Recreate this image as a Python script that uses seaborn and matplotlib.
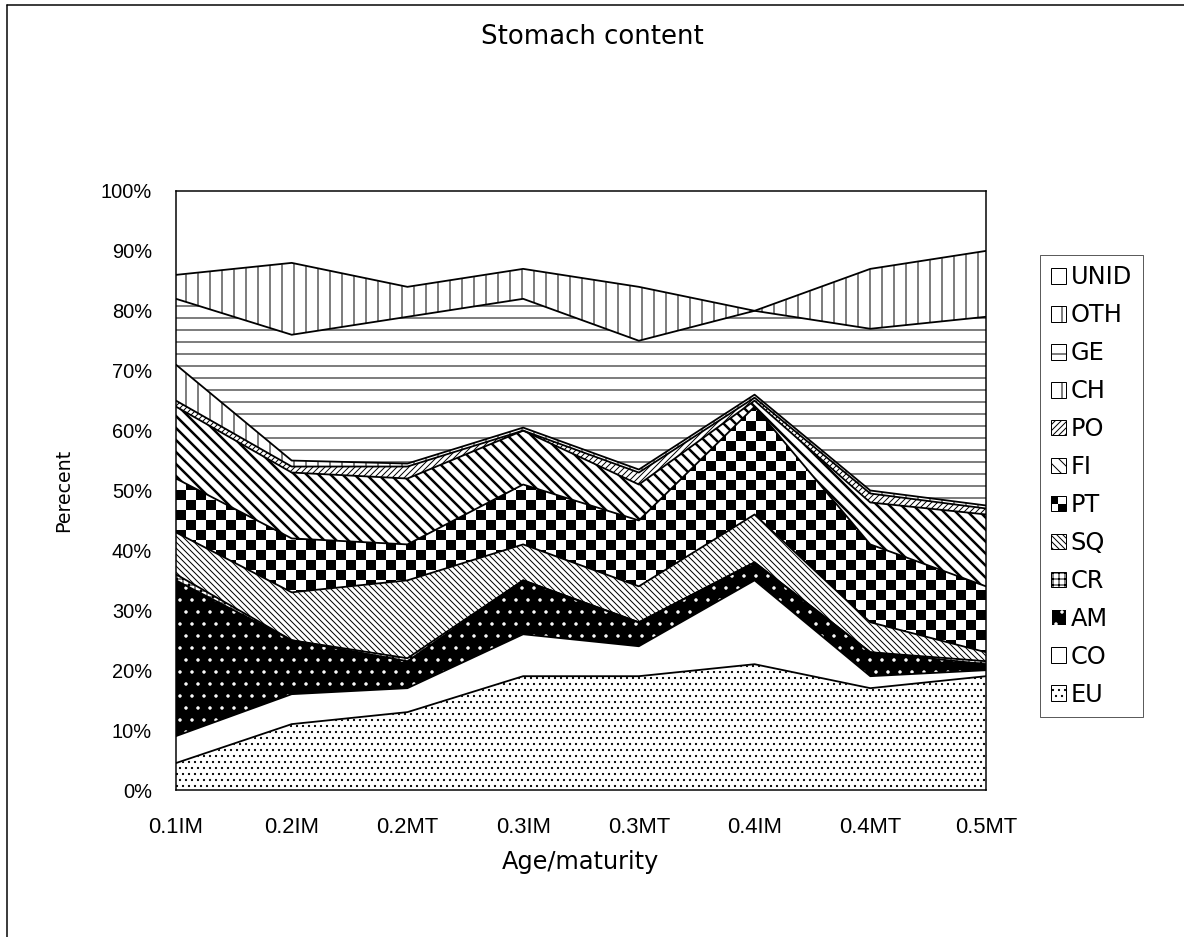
import numpy as np
import pandas as pd
import matplotlib
matplotlib.use("Agg")
import matplotlib.pyplot as plt
import seaborn as sns
from matplotlib.patches import Patch, Rectangle
from matplotlib.lines import Line2D
from matplotlib.legend_handler import HandlerBase

# Datos (porcentaje de cada presa por grupo de edad/madurez)
stages = ["0.1IM", "0.2IM", "0.2MT", "0.3IM", "0.3MT", "0.4IM", "0.4MT", "0.5MT"]
prey = ["EU", "CO", "AM", "CR", "SQ", "PT", "FI", "PO", "CH", "GE", "OTH", "UNID"]

EU = [4.5, 11, 13, 19, 19, 21, 17, 19]
CO = [4.5, 5, 4, 7, 5, 14, 2, 1]
AM = [26, 9, 4.5, 9, 4, 3, 4, 1]
CR = [1, 0, 0.5, 0, 0, 0, 0, 0.5]
SQ = [7, 8, 13, 6, 6, 8, 5, 1.5]
PT = [9, 9, 6, 10, 11, 18, 13, 11]
FI = [12, 11, 11, 9, 6, 1, 7, 12]
PO = [1, 1, 2, 0, 2, 0.5, 1.5, 1]
CH = [6, 1, 0.5, 0.5, 0.5, 0.5, 0.5, 0.5]
GE = [11, 21, 24.5, 21.5, 21.5, 14, 27, 31.5]
OTH = [4, 12, 5, 5, 9, 0, 10, 11]
UNID = [14, 12, 16, 13, 16, 20, 13, 10]

df = pd.DataFrame({"EU": EU, "CO": CO, "AM": AM, "CR": CR, "SQ": SQ, "PT": PT,
                   "FI": FI, "PO": PO, "CH": CH, "GE": GE, "OTH": OTH, "UNID": UNID},
                  index=stages)

# estilos blanco y negro (tramas)
styles = {
    "EU": dict(fc="white", hc="black", hatch=".."),
    "CO": dict(fc="white", hc="black", hatch=None),
    "AM": dict(fc="black", hc="white", hatch="."),
    "CR": dict(fc="white", hc="black", hatch="++"),
    "SQ": dict(fc="white", hc="black", hatch="\\\\\\\\"),
    "PT": dict(fc="white", hc="black", hatch=None),
    "FI": dict(fc="white", hc="black", hatch="\\\\", hlw=2.5),
    "PO": dict(fc="white", hc="black", hatch="////"),
    "CH": dict(fc="white", hc="black", hatch="|"),
    "GE": dict(fc="white", hc="black", hatch="-"),
    "OTH": dict(fc="white", hc="black", hatch="|"),
    "UNID": dict(fc="white", hc="black", hatch=None),
}

sns.set_theme(style="white")
plt.rcParams["font.family"] = ["DejaVu Sans"]
plt.rcParams["hatch.linewidth"] = 1.0
plt.rcParams["text.color"] = "black"
plt.rcParams["axes.labelcolor"] = "black"
plt.rcParams["xtick.color"] = "black"
plt.rcParams["ytick.color"] = "black"
narrow = ["Liberation Sans Narrow", "Liberation Sans", "DejaVu Sans"]

DPI = 72
fig = plt.figure(figsize=(1184 / DPI, 937 / DPI), dpi=DPI)
ax = fig.add_axes([176 / 1184, 1 - 790 / 937, (986 - 176) / 1184, (790 - 191) / 937])

x = np.arange(len(stages))
bottom = np.zeros(len(stages))
fills = {}
for name in prey:
    top = bottom + df[name].values
    st = styles[name]
    coll = ax.fill_between(x, bottom, top, facecolor=st["fc"], edgecolor=st["hc"],
                           hatch=st["hatch"], linewidth=0, zorder=1)
    if "hlw" in st:
        try:
            coll.set_hatch_linewidth(st["hlw"])
        except AttributeError:
            pass
    fills[name] = coll
    bottom = top

# tablero de ajedrez para PT
ny, nx = 60, 81
checker = np.add.outer(np.arange(ny), np.arange(nx)) % 2
im = ax.imshow(checker, cmap="gray", extent=(0, len(stages) - 1, 0, 100),
               aspect="auto", interpolation="nearest", zorder=1.5)
im.set_clip_path(fills["PT"].get_paths()[0], ax.transData)

# lineas de borde entre capas
cum = df.cumsum(axis=1)
long_df = cum.drop(columns="UNID").reset_index(names="stage").melt(
    id_vars="stage", var_name="series", value_name="top")
long_df["pos"] = long_df["stage"].map({s: i for i, s in enumerate(stages)})
sns.lineplot(data=long_df, x="pos", y="top", units="series", estimator=None,
             color="black", linewidth=1.8, ax=ax, zorder=3, legend=False)

ax.set_xlim(0, len(stages) - 1)
ax.set_ylim(0, 100)
ax.set_xticks(x)
ax.set_xticklabels(stages, fontsize=22, family=narrow)
ax.set_yticks(np.arange(0, 101, 10))
ax.set_yticklabels([f"{v}%" for v in range(0, 101, 10)], fontsize=20, family=narrow)
ax.tick_params(axis="both", direction="out", length=5, width=1, color="black")
ax.tick_params(axis="y", pad=19)
ax.tick_params(axis="x", pad=22)
ax.set_xlabel("Age/maturity", fontsize=24, labelpad=12)
ax.set_ylabel("Perecent", fontsize=19, labelpad=28)
for sp in ax.spines.values():
    sp.set_color("black")
    sp.set_linewidth(1.5)

fig.text(0.5, 1 - 37 / 937, "Stomach content", ha="center", va="center", fontsize=26)

# borde del area del grafico
fig.add_artist(Line2D([7 / 1184, 1.0], [1 - 5 / 937, 1 - 5 / 937], transform=fig.transFigure,
                      color="black", lw=1.5))
fig.add_artist(Line2D([7 / 1184, 7 / 1184], [0, 1 - 5 / 937], transform=fig.transFigure,
                      color="black", lw=1.5))


class CheckerHandler(HandlerBase):
    def create_artists(self, legend, orig_handle, xdescent, ydescent, width, height, fontsize, trans):
        w, h = width / 2, height / 2
        x0, y0 = -xdescent, -ydescent
        return [
            Rectangle((x0, y0), width, height, fc="white", ec="black", lw=1, transform=trans),
            Rectangle((x0, y0 + h), w, h, fc="black", ec="none", transform=trans),
            Rectangle((x0 + w, y0), w, h, fc="black", ec="none", transform=trans),
        ]


handles = []
handler_map = {}
for name in prey[::-1]:
    st = styles[name]
    if name == "PT":
        h = Patch(facecolor="white", edgecolor="black", label=name)
        handler_map[h] = CheckerHandler()
    else:
        h = Patch(facecolor=st["fc"], edgecolor=st["hc"] if name == "AM" else "black",
                  hatch=st["hatch"], label=name, linewidth=1)
    handles.append(h)

leg = fig.legend(handles=handles, handler_map=handler_map, loc="center left",
                 bbox_to_anchor=(1040 / 1184, 1 - 486 / 937), fontsize=24,
                 frameon=True, fancybox=False, handlelength=0.62, handleheight=0.62,
                 handletextpad=0.2, labelspacing=0.58, borderpad=0.45, borderaxespad=0)
leg.get_frame().set_edgecolor("black")
leg.get_frame().set_linewidth(0.8)

fig.savefig("out.png", dpi=DPI)
